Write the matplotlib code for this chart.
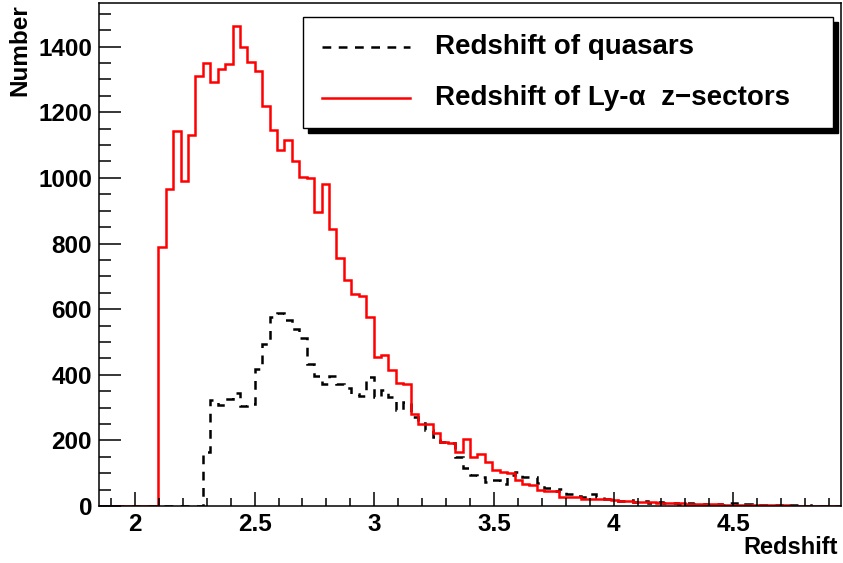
import numpy as np
import matplotlib
matplotlib.use("Agg")
import matplotlib.pyplot as plt
from matplotlib.patches import Rectangle
from matplotlib.lines import Line2D
from matplotlib.ticker import MultipleLocator, FuncFormatter

# histogram binning: 100 bins from 1.85 to 4.95
bin_edges = np.linspace(1.85, 4.95, 101)

# Redshift of Ly-alpha z-sectors (counts per bin)
lya_counts = [
    0, 0, 0, 0, 0, 0, 0, 0, 788, 966,
    1143, 989, 1131, 1309, 1350, 1291, 1333, 1347, 1462, 1398,
    1352, 1327, 1218, 1145, 1084, 1116, 1052, 1004, 999, 897,
    982, 843, 757, 690, 647, 641, 575, 453, 461, 414,
    375, 373, 281, 251, 249, 222, 195, 192, 166, 203,
    150, 159, 134, 110, 104, 102, 78, 67, 65, 48,
    47, 45, 28, 27, 26, 22, 22, 21, 20, 18,
    16, 15, 13, 12, 11, 10, 9, 8, 8, 7,
    6, 6, 5, 5, 4, 4, 3, 3, 3, 2,
    2, 2, 2, 1, 1, 1, 1, 1, 1, 1,
]

# Redshift of quasars (counts per bin)
qso_counts = [
    0, 0, 0, 0, 0, 0, 0, 0, 0, 0,
    0, 0, 0, 0, 164, 322, 309, 327, 343, 304,
    312, 419, 495, 577, 587, 566, 538, 513, 434, 395,
    373, 395, 373, 361, 340, 334, 393, 332, 353, 332,
    294, 317, 271, 253, 231, 210, 195, 192, 150, 115,
    93, 88, 73, 78, 66, 93, 103, 88, 88, 70,
    56, 47, 52, 37, 32, 27, 38, 27, 22, 20,
    14, 18, 12, 15, 9, 12, 8, 10, 6, 9,
    5, 7, 4, 6, 3, 8, 3, 5, 2, 4,
    2, 3, 1, 3, 2, 1, 2, 1, 1, 0,
]

legend_labels = ["Redshift of quasars", "Redshift of Ly-\u03b1  z\u2212sectors"]

plt.rcParams['font.family'] = ['Liberation Sans', 'DejaVu Sans']
plt.rcParams['font.weight'] = 'bold'

W, H = 843, 563
fig = plt.figure(figsize=(W / 100, H / 100), dpi=100)
ax = fig.add_axes([99 / W, 1 - 506 / H, (841 - 99) / W, (506 - 3) / H])

dash = (0, (3.5, 3))
# quasars first, Ly-a on top (ROOT "same" order)
ax.stairs(qso_counts, bin_edges, color='black', linewidth=1.8, linestyle=dash)
ax.stairs(lya_counts, bin_edges, color='#ff0000', linewidth=1.8)

ax.set_xlim(1.85, 4.95)
ax.set_ylim(0, 1533)

ax.xaxis.set_major_locator(MultipleLocator(0.5))
ax.xaxis.set_minor_locator(MultipleLocator(0.1))
ax.yaxis.set_major_locator(MultipleLocator(200))
ax.yaxis.set_minor_locator(MultipleLocator(50))
ax.xaxis.set_major_formatter(FuncFormatter(lambda v, p: f"{v:g}"))

ax.tick_params(axis='both', which='both', direction='in', top=False, right=False,
               labelsize=17.5, width=1.1)
ax.tick_params(axis='y', which='major', length=16, pad=5)
ax.tick_params(axis='y', which='minor', length=8.5)
ax.tick_params(axis='x', which='major', length=10, pad=5)
ax.tick_params(axis='x', which='minor', length=5.5)
for lab in ax.get_xticklabels() + ax.get_yticklabels():
    lab.set_fontweight('bold')
for sp in ax.spines.values():
    sp.set_linewidth(1.1)

# axis titles, ROOT style
fig.text(20 / W, 1 - 4 / H, "Number", rotation=90, ha='center', va='top',
         fontsize=17.5, fontweight='bold')
fig.text(838 / W, 1 - 548 / H, "Redshift", ha='right', va='center',
         fontsize=17, fontweight='bold')


def fx(px):
    return px / W


def fy(py):
    return 1 - py / H


# legend box with solid shadow
shadow = Rectangle((fx(308), fy(133)), fx(838) - fx(308), fy(22) - fy(133),
                   transform=fig.transFigure, facecolor='black', edgecolor='black')
box = Rectangle((fx(303), fy(128)), fx(833) - fx(303), fy(17) - fy(128),
                transform=fig.transFigure, facecolor='white', edgecolor='black', linewidth=1.0)
fig.add_artist(shadow)
fig.add_artist(box)

fig.add_artist(Line2D([fx(322), fx(410)], [fy(47), fy(47)], transform=fig.transFigure,
                      color='black', linewidth=1.8, linestyle=dash))
fig.add_artist(Line2D([fx(322), fx(410)], [fy(98), fy(98)], transform=fig.transFigure,
                      color='#ff0000', linewidth=1.8))
fig.text(fx(435), fy(47), legend_labels[0], ha='left', va='center', fontsize=20, fontweight='bold')
fig.text(fx(435), fy(98), legend_labels[1], ha='left', va='center', fontsize=20, fontweight='bold')

fig.savefig("out.png", dpi=100)
